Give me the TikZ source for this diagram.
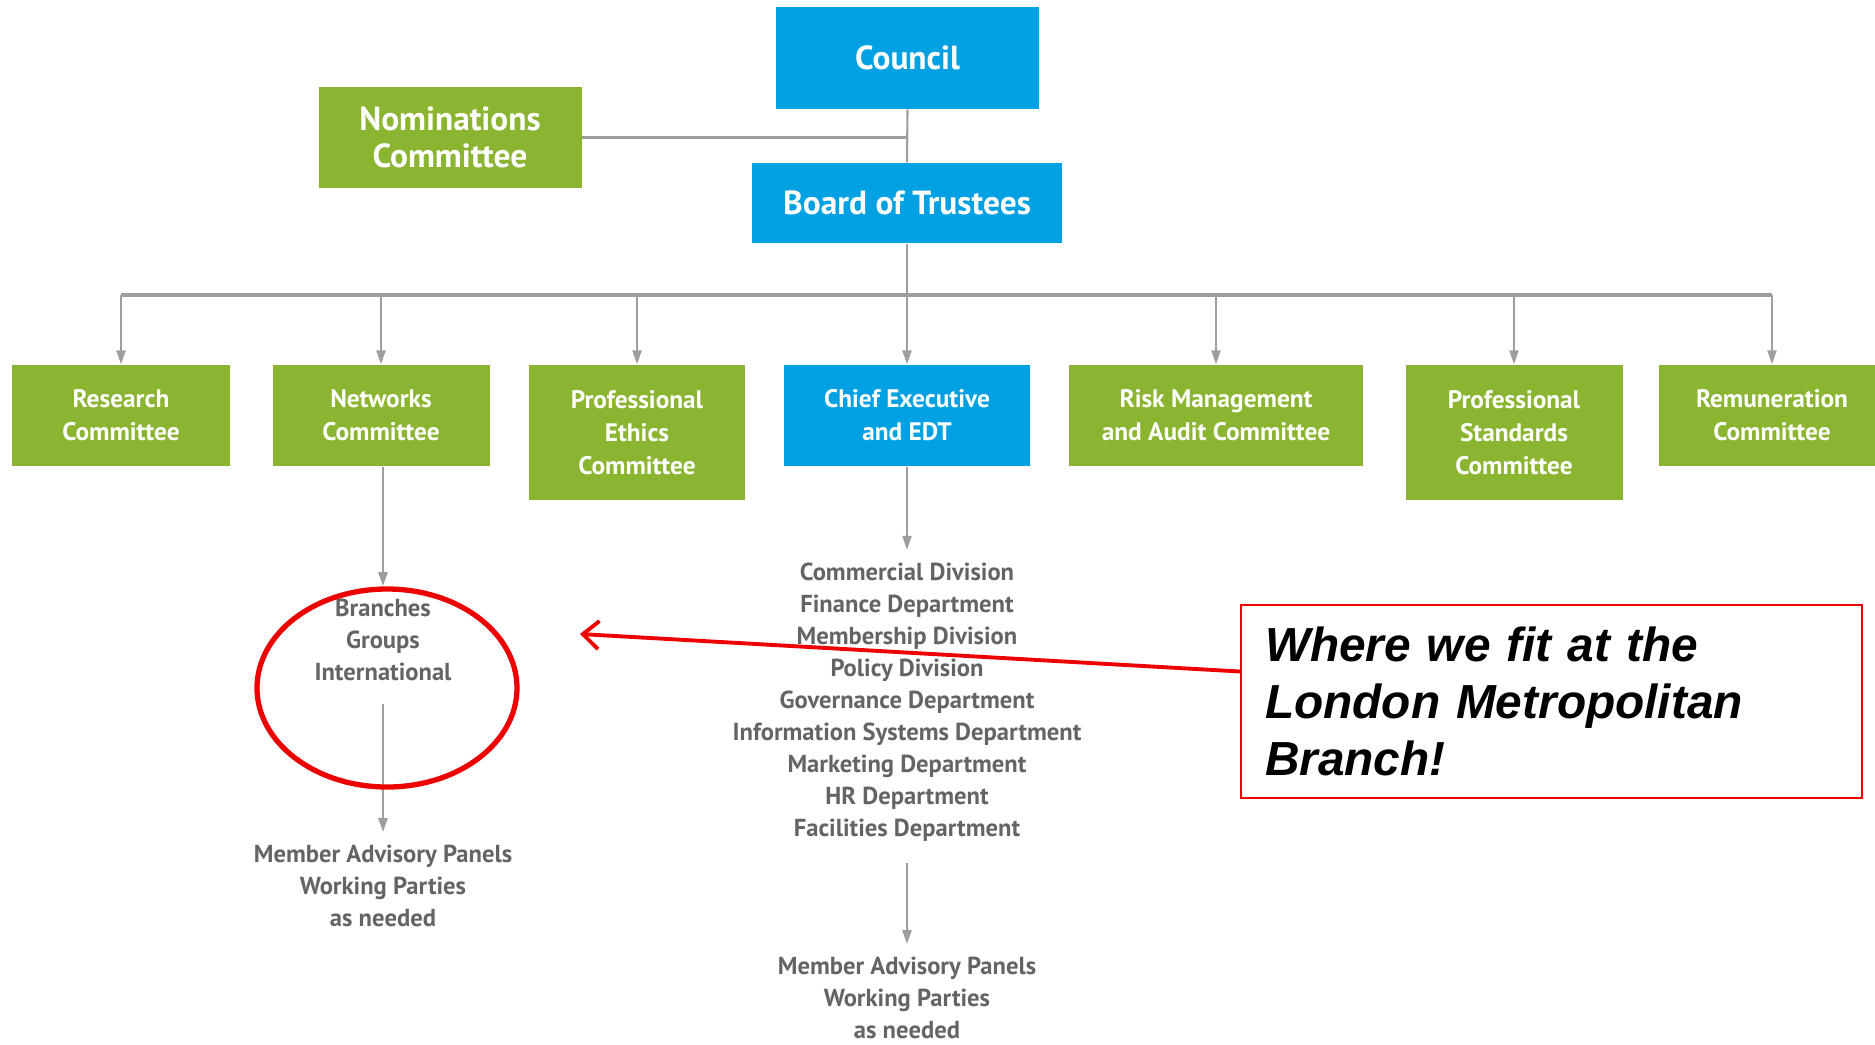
\documentclass[tikz,border=0pt]{standalone}
\usepackage{fontspec}
\setmainfont{PT Sans}
\newfontfamily\notefont{Liberation Sans}
\usepackage{tikz}
\usetikzlibrary{calc,arrows.meta}
\definecolor{bodyblue}{RGB}{0,161,226}
\definecolor{cttegreen}{RGB}{139,181,48}
\definecolor{linegray}{RGB}{158,158,160}
\definecolor{textgray}{RGB}{100,100,104}
\definecolor{notered}{RGB}{236,0,0}

\begin{document}
\begin{tikzpicture}[
  bluebox/.style={fill=bodyblue, text=white, align=center, inner sep=0pt,
    font=\bfseries\fontsize{9.5}{10.6}\selectfont},
  greenbox/.style={fill=cttegreen, text=white, align=center, inner sep=0pt,
    font=\bfseries\fontsize{7.2}{9.4}\selectfont, minimum height=1.01cm},
  tallbox/.style={greenbox, minimum height=1.35cm},
  graylist/.style={text=textgray, align=center, inner sep=3.5pt,
    font=\bfseries\fontsize{7}{9.1}\selectfont},
  link/.style={draw=linegray, line width=0.6pt},
  arr/.style={link, -{Triangle[length=4pt,width=2.6pt]}},
]
\useasboundingbox (0,0) rectangle (18.75,-10.44);

% Council and board
\node[bluebox, minimum width=2.63cm, minimum height=1.02cm] (council) at (9.075,-0.58) {Council};
\node[greenbox, minimum width=2.63cm, font=\bfseries\fontsize{9.5}{10.6}\selectfont] (nomin) at (4.50,-1.375) {Nominations\\Committee};
\node[bluebox, minimum width=3.10cm, minimum height=0.80cm] (board) at (9.07,-2.03) {Board of Trustees};

\draw[link] (council.south) -- (board.north);
\draw[link, line width=0.9pt] (nomin.east) -- (nomin.east -| council.south);

% Committees under the board
\node[greenbox, minimum width=2.18cm] (research) at (1.21,-4.155) {Research\\Committee};
\node[greenbox, minimum width=2.17cm] (networks) at (3.81,-4.155) {Networks\\Committee};
\node[tallbox, minimum width=2.16cm] (ethics) at (6.37,-4.325) {Professional\\Ethics\\Committee};
\node[bluebox, minimum width=2.46cm, minimum height=1.01cm, font=\bfseries\fontsize{7.2}{9.4}\selectfont] (chief) at (9.07,-4.155) {Chief Executive\\and EDT};
\node[greenbox, minimum width=2.94cm] (risk) at (12.16,-4.155) {Risk Management\\and Audit Committee};
\node[tallbox, minimum width=2.17cm] (standards) at (15.14,-4.325) {Professional\\Standards\\Committee};
\node[greenbox, minimum width=2.26cm] (remun) at (17.72,-4.155) {Remuneration\\Committee};

\coordinate (bus) at (0,-2.95);
\draw[link, line width=0.9pt] (research.north |- bus) -- (remun.north |- bus);
\draw[arr] (board.south) -- (chief.north);
\foreach \c in {research,networks,ethics,risk,standards,remun}
  \draw[arr] (\c.north |- bus) -- (\c.north);

% Below networks
\node[graylist] (branches) at (3.83,-6.40) {Branches\\Groups\\International};
\node[graylist] (panelsA) at (3.83,-8.86) {Member Advisory Panels\\Working Parties\\as needed};
\draw[arr] (networks.south -| branches.north) -- (branches.north);
\draw[arr, shorten <=3pt] (branches.south) -- (panelsA.north);

% Below chief executive
\node[graylist] (divisions) at (9.07,-7.02) {Commercial Division\\Finance Department\\Membership Division\\Policy Division\\Governance Department\\Information Systems Department\\Marketing Department\\HR Department\\Facilities Department};
\node[graylist] (panelsB) at (9.07,-9.98) {Member Advisory Panels\\Working Parties\\as needed};
\draw[arr] (chief.south) -- (divisions.north);
\draw[arr, shorten <=2.5pt] (divisions.south) -- (panelsB.north);

% Callout
\draw[notered, line width=1.5pt] (3.87,-6.88) ellipse (1.30 and 0.99);
\node[draw=notered, line width=0.6pt, text width=5.73cm, inner xsep=0.24cm, minimum height=1.93cm, align=left,
  font=\notefont\bfseries\itshape\fontsize{13.6}{16.2}\selectfont] (note) at (15.515,-7.015) {Where we fit at the\\London Metropolitan\\Branch!};
\coordinate (target) at (5.80,-6.34);
\draw[notered, line width=1.1pt, -{Straight Barb[length=4.5pt,width=8pt]}] ([yshift=0.3cm]note.west) -- (target);
\end{tikzpicture}
\end{document}
